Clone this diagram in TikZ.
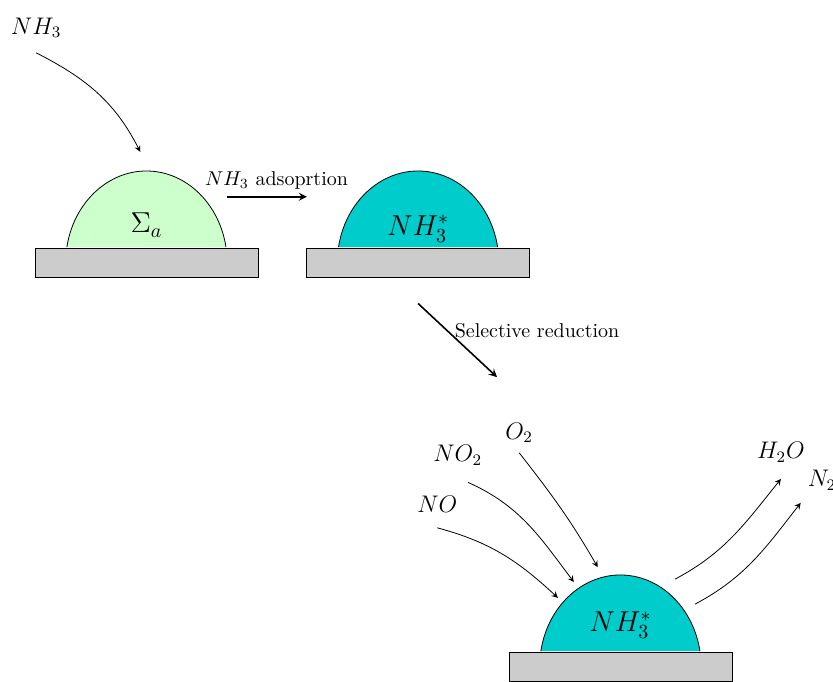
\documentclass[tikz,border=0pt]{standalone}
\usepackage{amsmath}
\usetikzlibrary{arrows.meta, positioning, calc}
\definecolor{siteteal}{RGB}{0,204,204}
\definecolor{sitegreen}{RGB}{204,255,204}

\begin{document}
\begin{tikzpicture}[auto, node distance=2cm, >=stealth]

		% Define block styles
		\tikzstyle{plate} = [rectangle, draw, fill=gray!40, minimum width=3.92cm, minimum height=0.51cm, inner sep=0pt]
		\tikzstyle{dome} = [draw]
		\tikzstyle{gas} = [font=\large]
		\tikzstyle{site} = [font=\Large, anchor=base]
		\tikzstyle{flow} = [->, thick]

		\useasboundingbox (-0.615,-7.118) rectangle (14.025,4.868);

		% Nodes
		\node[plate] (plate1) at (1.96,0.255) {};
		\node[plate, right=0.84cm of plate1] (plate2) {};
		\node[plate] (plate3) at (10.29,-6.845) {};

		% Domes
		\draw[dome, fill=sitegreen] ([xshift=-1.40cm, yshift=0.2pt]plate1.north) arc[start angle=170, end angle=10, x radius=1.42cm, y radius=1.62cm];
		\draw[dome, fill=siteteal] ([xshift=-1.40cm, yshift=0.2pt]plate2.north) arc[start angle=170, end angle=10, x radius=1.42cm, y radius=1.62cm];
		\draw[dome, fill=siteteal] ([xshift=-1.40cm, yshift=0.2pt]plate3.north) arc[start angle=170, end angle=10, x radius=1.42cm, y radius=1.62cm];

		\node[site] (sigma) at ([yshift=0.26cm]plate1.north) {$\Sigma_a$};
		\node[site] (ads) at ([yshift=0.22cm]plate2.north) {$NH_3^*$};
		\node[site] (red) at ([yshift=0.35cm]plate3.north) {$NH_3^*$};

		% Gases
		\node[gas] (nh3) at (0.02,4.38) {$NH_3$};
		\node[gas] (no) at (7.07,-3.99) {$NO$};
		\node[gas] (no2) at (7.43,-3.13) {$NO_2$};
		\node[gas] (o2) at (8.51,-2.74) {$O_2$};
		\node[gas] (h2o) at (13.11,-3.08) {$H_2O$};
		\node[gas] (n2) at (13.83,-3.57) {$N_2$};

		% Arrow ends
		\coordinate (in1) at (1.85,2.20);
		\coordinate (ads-s) at (3.37,1.41);
		\coordinate (ads-e) at (4.78,1.41);
		\coordinate (red-s) at ($(plate2.south)+(0,-0.46)$);
		\coordinate (red-e) at (8.12,-1.76);
		\coordinate (in-no) at (9.19,-5.64);
		\coordinate (in-no2) at (9.47,-5.36);
		\coordinate (in-o2) at (9.89,-5.10);
		\coordinate (out-h2o) at (11.25,-5.31);
		\coordinate (out-n2) at (11.60,-5.75);

		% Arrows
		\draw[->] ([yshift=-0.14cm]nh3.south) to[out=-27, in=117] (in1);
		\draw[flow] (ads-s) -- node[above, pos=0.62] (adslabel) {$NH_3$ adsoprtion} (ads-e);
		\draw[flow] (red-s) -- node[right, pos=0.37] (redlabel) {Selective reduction} (red-e);

		\draw[->] ([yshift=-0.15cm]no.south) to[out=-15, in=137] (in-no);
		\draw[->] ([shift={(0.18,-0.18)}]no2.south) to[out=-24, in=127] (in-no2);
		\draw[->] ([yshift=-0.05cm]o2.south) to[out=-52, in=120] (in-o2);
		\draw[->] (out-h2o) to[out=28, in=-129] ([yshift=-0.17cm]h2o.south);
		\draw[->] (out-n2) to[out=28, in=-128] ([yshift=-0.1cm]n2.south west);

	\end{tikzpicture}
\end{document}
